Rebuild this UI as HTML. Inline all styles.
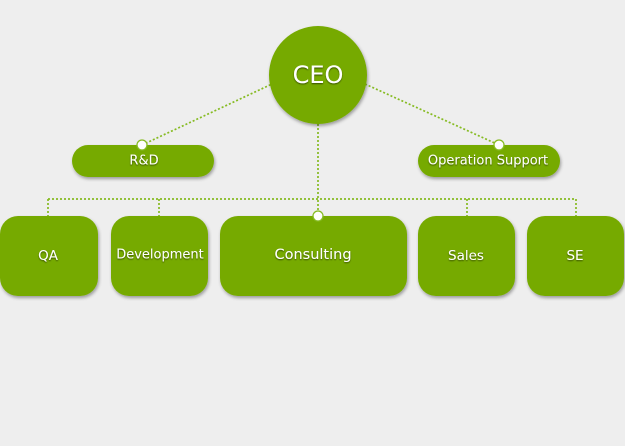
<!DOCTYPE html>
<html><head><meta charset="utf-8"><style>
html,body{margin:0;padding:0;background:#eeeeee;width:625px;height:446px;overflow:hidden}
svg{display:block}
text{font-family:"DejaVu Sans","Liberation Sans",sans-serif;fill:#fff;text-anchor:middle;dominant-baseline:central}
</style></head><body>
<svg width="625" height="446" viewBox="0 0 625 446">
<defs>
<filter id="sh" x="-20%" y="-20%" width="140%" height="150%">
<feDropShadow dx="1" dy="2" stdDeviation="1.5" flood-color="#000" flood-opacity="0.35"/>
</filter>
<filter id="ts"><feDropShadow dx="0" dy="1" stdDeviation="0.7" flood-color="#000" flood-opacity="0.55"/></filter>
</defs>
<g stroke="#86bb22" stroke-width="1.7" stroke-dasharray="2 2" fill="none">
<line x1="142" y1="145" x2="272" y2="84"/>
<line x1="365" y1="84" x2="499" y2="145"/>
<line x1="318" y1="124" x2="318" y2="216"/>
<line x1="48" y1="199" x2="576" y2="199"/>
<line x1="48" y1="199" x2="48" y2="216"/>
<line x1="159" y1="199" x2="159" y2="216"/>
<line x1="467" y1="199" x2="467" y2="216"/>
<line x1="576" y1="199" x2="576" y2="216"/>
</g>
<g fill="#76aa00" filter="url(#sh)">
<circle cx="318" cy="75" r="49"/>
<rect x="72" y="145" width="142" height="32" rx="16"/>
<rect x="418" y="145" width="142" height="32" rx="16"/>
<rect x="0" y="216" width="98" height="80" rx="18"/>
<rect x="111" y="216" width="97" height="80" rx="18"/>
<rect x="220" y="216" width="187" height="80" rx="18"/>
<rect x="418" y="216" width="97" height="80" rx="18"/>
<rect x="527" y="216" width="97" height="80" rx="18"/>
</g>
<g fill="#fff" stroke="#86bb22" stroke-width="1.3">
<circle cx="142" cy="145" r="5"/>
<circle cx="499" cy="145" r="5"/>
<circle cx="318" cy="216" r="5"/>
</g>
<g filter="url(#ts)">
<text x="318" y="75" font-size="24">CEO</text>
<text x="144" y="161" font-size="13">R&amp;D</text>
<text x="488" y="161" font-size="13">Operation Support</text>
<text x="48" y="256" font-size="13.5">QA</text>
<text x="160" y="255" font-size="13">Development</text>
<text x="313" y="255" font-size="14.5">Consulting</text>
<text x="466" y="256" font-size="13.5">Sales</text>
<text x="575" y="256" font-size="13.5">SE</text>
</g>
</svg>
</body></html>
